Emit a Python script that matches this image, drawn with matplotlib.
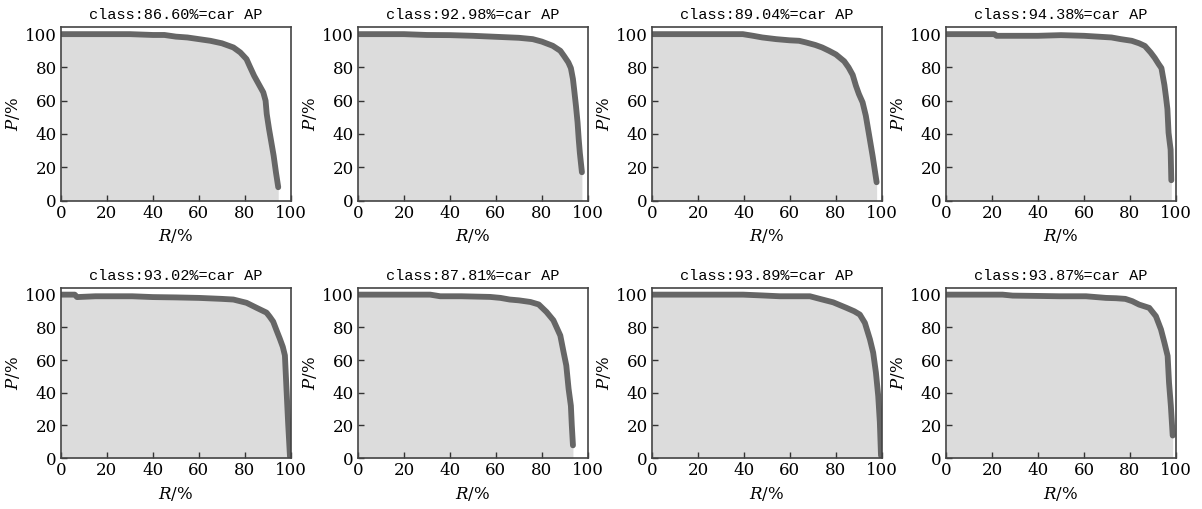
"""PR curves for the car class, 8 runs"""

import numpy as np
import matplotlib.pyplot as plt

plt.rcParams['font.family'] = ['DejaVu Serif']
plt.rcParams['mathtext.fontset'] = 'dejavuserif'

titles = ['class:86.60%=car AP', 'class:92.98%=car AP',
          'class:89.04%=car AP', 'class:94.38%=car AP',
          'class:93.02%=car AP', 'class:87.81%=car AP',
          'class:93.89%=car AP', 'class:93.87%=car AP']

# recall / precision [%]
r1 = [0, 10, 20, 30, 40, 45, 50, 55, 60, 65, 70, 75, 78, 80.7, 82, 84, 86, 88, 89, 89.5, 90.5, 91.5, 92.5, 93.5, 94.5]
p1 = [100, 100, 100, 100, 99.5, 99.5, 98.5, 98, 97, 96, 94.5, 92, 89, 85, 81, 75, 70, 65, 60, 52, 43, 35, 27, 17, 8]

r2 = [0, 10, 20, 30, 40, 50, 60, 70, 76, 80, 84.7, 88, 89.7, 91.5, 92.6, 93.5, 94, 94.8, 95.5, 96, 96.5, 97.4]
p2 = [100, 100, 100, 99.5, 99.4, 99, 98.4, 97.8, 97, 95.5, 93, 90, 86.7, 83, 79.6, 73, 67, 57, 47, 37, 28.6, 17]

r3 = [0, 10, 20, 30, 39.5, 44, 48, 54, 59.8, 64, 67, 71, 74, 77, 80, 83.6, 85.5, 87.3, 88.7, 90, 91.6, 93, 94.5, 96, 97.7]
p3 = [100, 100, 100, 100, 100, 99, 98, 97, 96.3, 96, 95, 93.5, 92, 90, 87.8, 83.7, 80, 75.5, 69, 64, 59, 51, 38.8, 26.5, 11]

r4 = [0, 10, 21, 22, 30, 40, 50, 60, 66, 72, 76, 80.8, 84, 86.5, 89, 90.8, 92.5, 93.7, 95, 95.7, 96.3, 96.8, 97.3, 97.7, 98]
p4 = [100, 100, 100, 99, 99, 99, 99.4, 99, 98.5, 98, 97, 96, 94.5, 92.9, 89, 85.7, 82, 79.6, 69.4, 62, 55, 40.8, 35, 30.6, 12.2]

r5 = [0, 6, 7, 15, 20, 31, 40, 50, 60, 70, 75, 80.7, 85, 89.4, 90.8, 92.3, 93.8, 95.2, 96.5, 97.4, 98.1, 98.8, 99.6]
p5 = [100, 100, 98.5, 99, 99, 99, 98.5, 98.3, 98, 97.4, 97, 95, 92, 89, 86.5, 83.5, 78, 73, 68, 62.8, 42, 21.6, 1]

r6 = [0, 10, 20, 31.4, 35.8, 45, 57.5, 62, 66, 70, 75, 78.6, 82, 85, 88, 89.4, 90.6, 91.6, 92.6, 93, 93.5]
p6 = [100, 100, 100, 100, 99, 99, 98.6, 98, 97, 96.5, 95.5, 94, 89.4, 84.3, 75, 65, 56.7, 42.4, 32, 20, 7.8]

r7 = [0, 10, 20, 30, 39.6, 48, 55.6, 62, 68.7, 73, 78.8, 84.6, 88, 90.4, 92.6, 94.8, 96.2, 97.4, 98.4, 99.1, 99.6]
p7 = [100, 100, 100, 100, 100, 99.5, 99, 99, 99, 97.4, 95.3, 91.9, 89.8, 87.8, 82.7, 72.6, 64.5, 52.3, 38, 22, 1.6]

r8 = [0, 10, 20, 24.6, 29, 40, 49.3, 60.9, 69.6, 74, 78, 81, 84, 88.4, 91.3, 93.5, 95, 96.4, 97, 97.8, 98.6]
p8 = [100, 100, 100, 100, 99.4, 99.2, 99, 99, 98, 97.8, 97.4, 96, 93.9, 91.9, 86.8, 78.7, 70.6, 62.5, 46.2, 32, 13.8]

recalls = [r1, r2, r3, r4, r5, r6, r7, r8]
precisions = [p1, p2, p3, p4, p5, p6, p7, p8]

fig = plt.figure(figsize=(12.02, 5.09), dpi=100)

lefts = [0.0507, 0.2978, 0.5424, 0.787]
bottoms = [0.606, 0.100]
heights = [0.340, 0.334]
w = 0.1913

for i in range(8):
    row, col = divmod(i, 4)
    ax = fig.add_axes([lefts[col], bottoms[row], w, heights[row]])
    r = np.array(recalls[i])
    p = np.array(precisions[i])
    ax.fill_between(r, p, 0, color='#dcdcdc', lw=0)
    ax.plot(r, p, color='#666666', lw=4.2, solid_capstyle='round',
            solid_joinstyle='round')
    ax.set_xlim(0, 100)
    ax.set_ylim(0, 104)
    ax.set_xticks([0, 20, 40, 60, 80, 100])
    ax.set_yticks([0, 20, 40, 60, 80, 100])
    ax.tick_params(direction='in', length=4, width=1, labelsize=12,
                   pad=3, color='#333333')
    for s in ax.spines.values():
        s.set_color('#444444')
        s.set_linewidth(1.2)
    ax.set_title(titles[i], fontsize=11, family=['Liberation Mono', 'DejaVu Sans Mono'], pad=6)
    ax.set_xlabel('$R$/%', fontsize=12, labelpad=4)
    ax.set_ylabel('$P$/%', fontsize=12, labelpad=2)

fig.savefig('out.png', dpi=100)
